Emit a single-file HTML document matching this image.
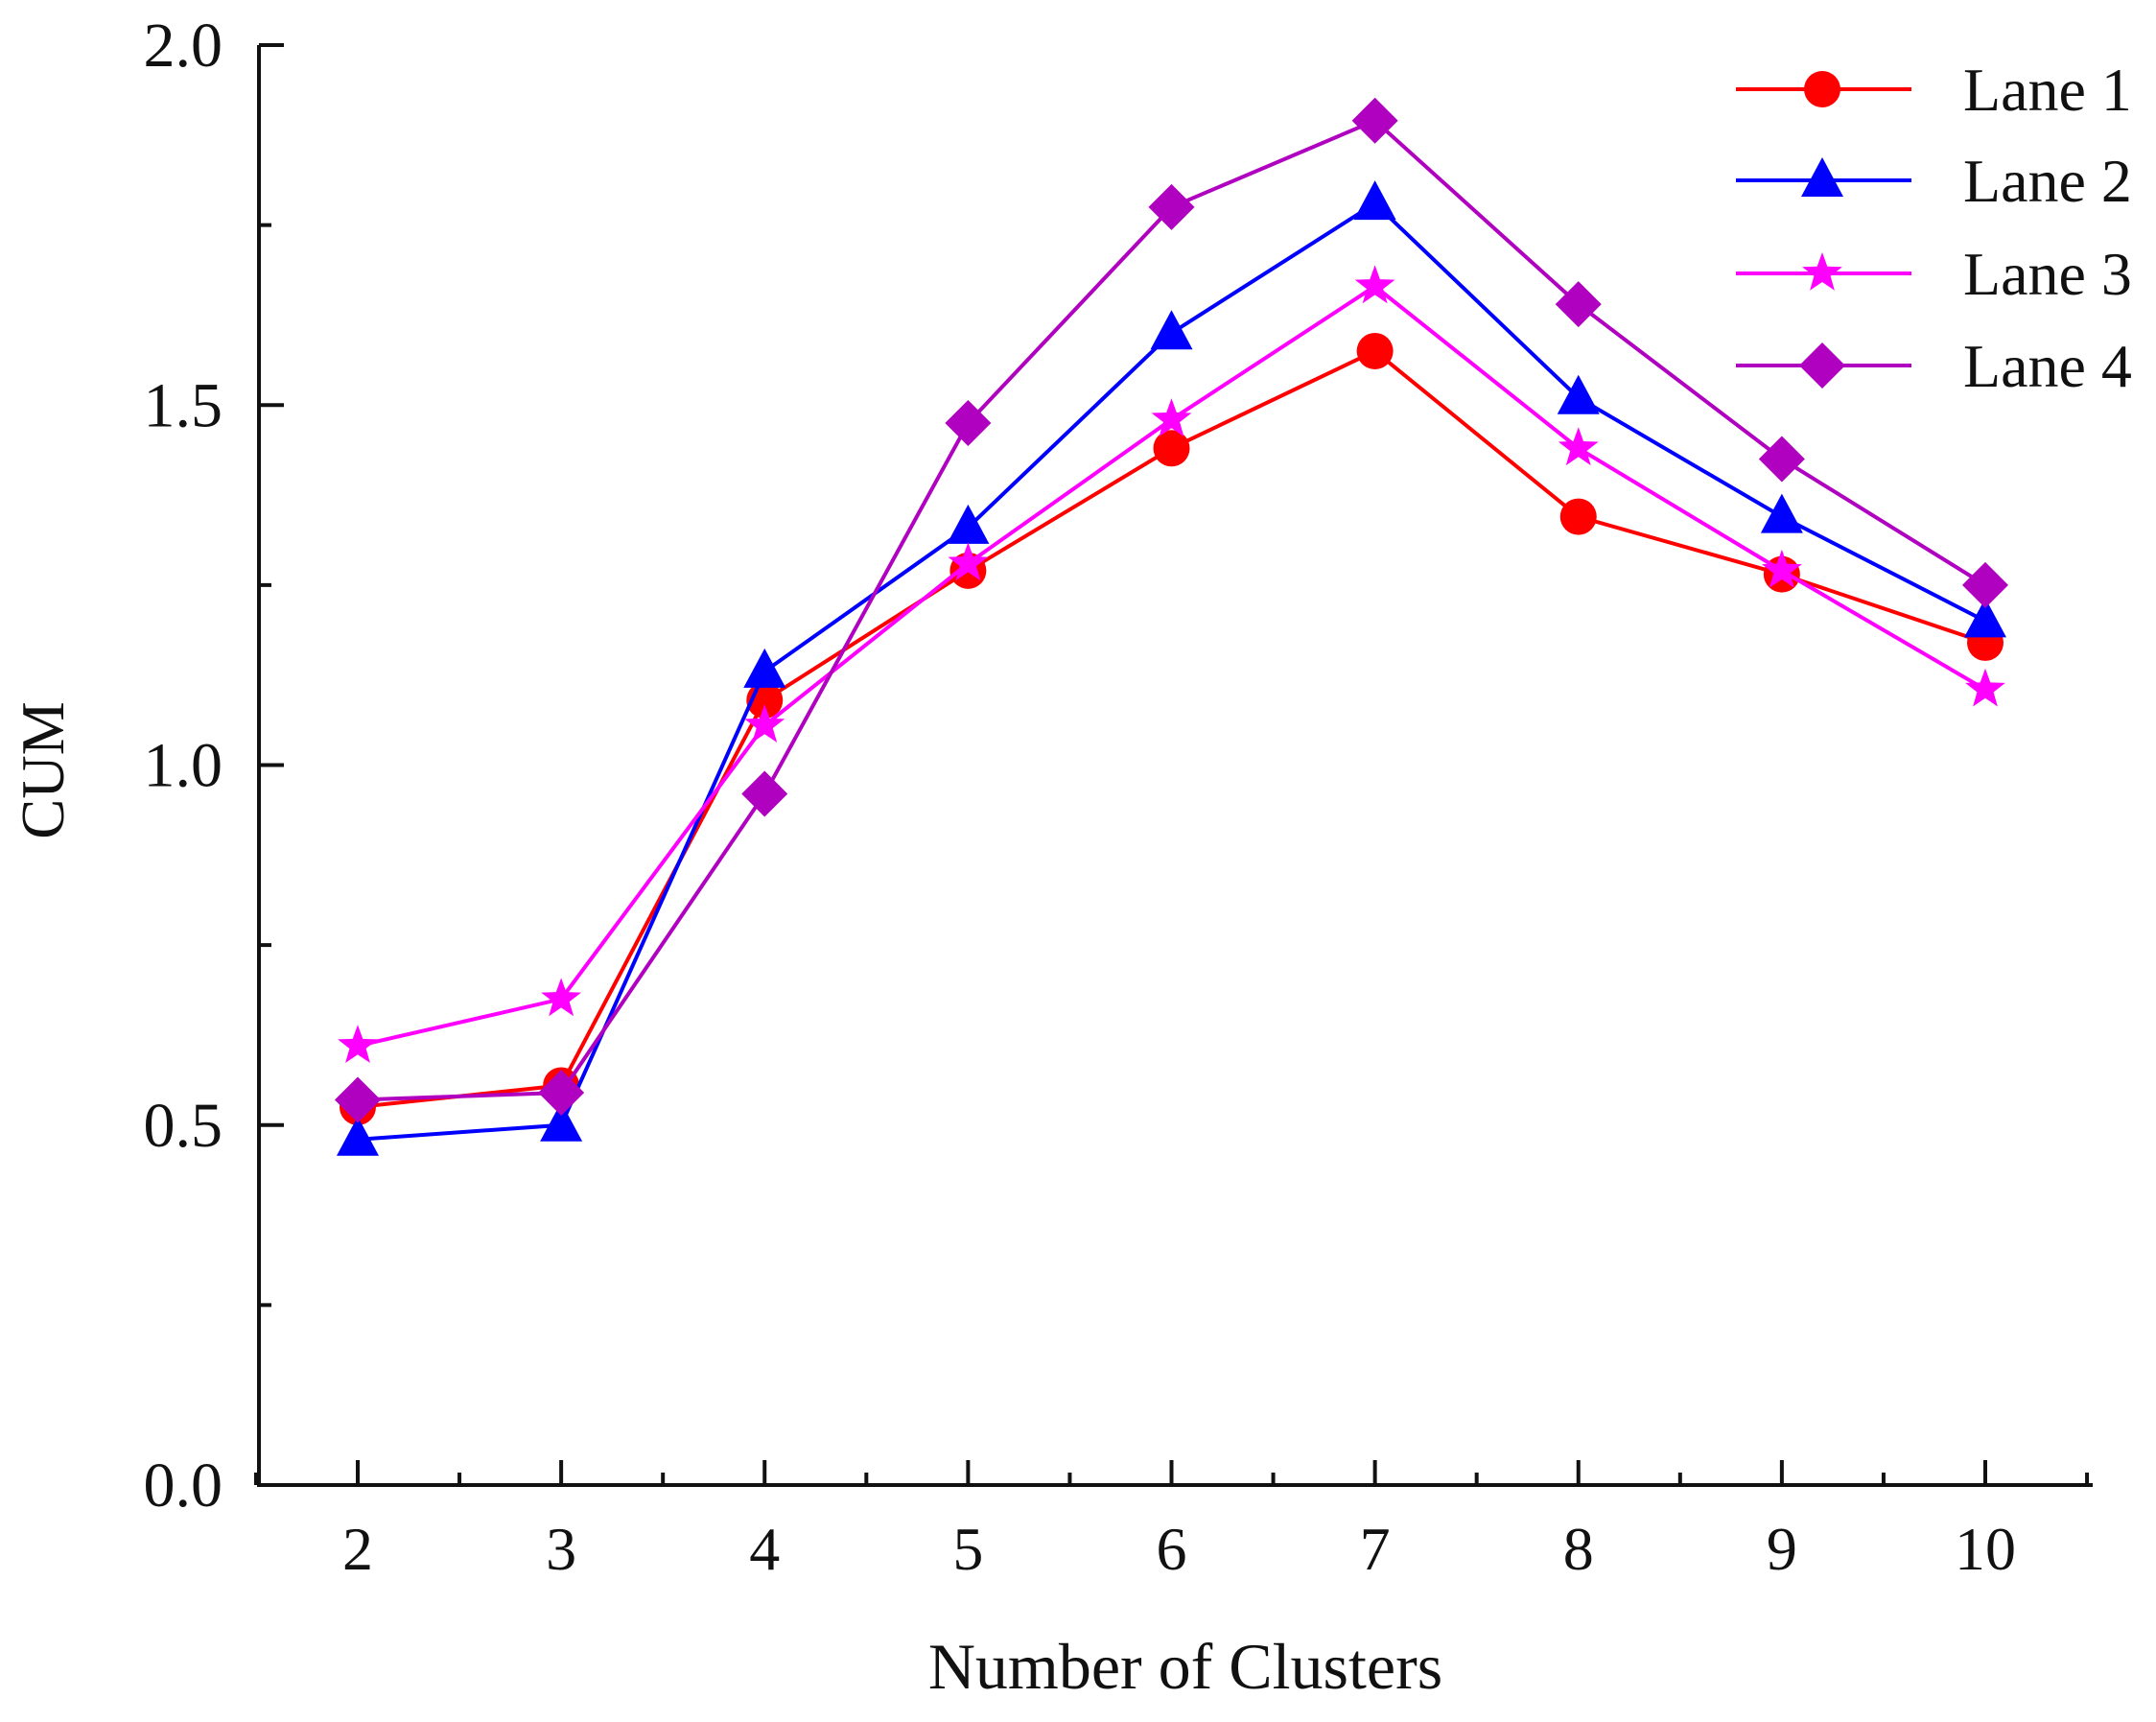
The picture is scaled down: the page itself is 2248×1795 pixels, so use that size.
<!DOCTYPE html>
<html><head><meta charset="utf-8"><style>
html,body{margin:0;padding:0;background:#fff;}
svg text{font-family:"Liberation Serif",serif;fill:#111;}
</style></head><body>
<svg id="chart" width="2248" height="1790" viewBox="0 0 2248 1790" xmlns="http://www.w3.org/2000/svg">
<g id="axes"></g>
<g id="series"></g>
<g id="legend"></g>
<text x="1236" y="1760" font-size="68" text-anchor="middle">Number of Clusters</text>
<text transform="translate(66,803) rotate(-90)" font-size="63" text-anchor="middle">CUM</text>
</svg>
<script>
const categories = [2,3,4,5,6,7,8,9,10];
const lane1 = [0.525,0.555,1.09,1.27,1.44,1.575,1.345,1.265,1.17];
const lane2 = [0.48,0.50,1.13,1.33,1.60,1.78,1.51,1.345,1.20];
const lane3 = [0.61,0.675,1.055,1.28,1.48,1.665,1.44,1.27,1.105];
const lane4 = [0.535,0.545,0.96,1.475,1.775,1.895,1.64,1.425,1.25];
const yTicks = [0.0,0.5,1.0,1.5,2.0];
const yTickLabels = ["0.0","0.5","1.0","1.5","2.0"];
const seriesNames = ["Lane 1","Lane 2","Lane 3","Lane 4"];

const NS="http://www.w3.org/2000/svg";
const X0=270, Y0=1548, XEND=2182, YTOP=47;
function xs(v){return 373+(v-2)*(2070-373)/8;}
function ys(v){return Y0-(v/2.0)*(Y0-YTOP);}
function mk(tag,attrs,parent){const e=document.createElementNS(NS,tag);for(const k in attrs)e.setAttribute(k,attrs[k]);parent.appendChild(e);return e;}
const axes=document.getElementById('axes');
let e;
e=mk('line',{x1:X0,y1:Y0,x2:XEND,y2:Y0,stroke:'#111','stroke-width':4},axes);


e=mk('line',{x1:X0,y1:Y0+2,x2:X0,y2:YTOP,stroke:'#111','stroke-width':4},axes);


categories.forEach(c=>{
  e=mk('line',{x1:xs(c),y1:Y0,x2:xs(c),y2:Y0-26,stroke:'#111','stroke-width':4},axes);
  
  
  e=mk('line',{x1:xs(c+0.5),y1:Y0,x2:xs(c+0.5),y2:Y0-13,stroke:'#111','stroke-width':4},axes);
  
  
  e=mk('text',{x:xs(c),y:1636,'font-size':64,'text-anchor':'middle'},axes);
  e.textContent=c;
  
  
});
e=mk('line',{x1:xs(1.5),y1:Y0,x2:xs(1.5),y2:Y0-13,stroke:'#111','stroke-width':4},axes);


yTicks.forEach((t,i)=>{
  e=mk('line',{x1:X0,y1:ys(t),x2:X0+26,y2:ys(t),stroke:'#111','stroke-width':4},axes);
  
  
  if(i<yTicks.length-1){
    e=mk('line',{x1:X0,y1:ys(t+0.25),x2:X0+13,y2:ys(t+0.25),stroke:'#111','stroke-width':4},axes);
    
    
  }
  e=mk('text',{x:232,y:ys(t)+22,'font-size':66,'text-anchor':'end'},axes);
  e.textContent=yTickLabels[i];
  
  
});
const colors=['#ff0000','#0000ff','#ff00ff','#b000c0'];
const shapes=['circle','triangle','star','diamond'];
function marker(shape,cx,cy,color,parent){
  let el;
  if(shape==='circle') el=mk('circle',{cx:cx,cy:cy,r:19,fill:color},parent);
  else if(shape==='triangle') el=mk('polygon',{points:`${cx},${cy-24} ${cx+22},${cy+17} ${cx-22},${cy+17}`,fill:color},parent);
  else if(shape==='diamond') el=mk('polygon',{points:`${cx},${cy-24} ${cx+24},${cy} ${cx},${cy+24} ${cx-24},${cy}`,fill:color},parent);
  else {let p=[];for(let k=0;k<10;k++){const r=k%2?9:22;const a=-Math.PI/2+k*Math.PI/5;p.push((cx+r*Math.cos(a)).toFixed(1)+','+(cy+r*Math.sin(a)).toFixed(1));}
    el=mk('polygon',{points:p.join(' '),fill:color},parent);}
  return el;
}
const sg=document.getElementById('series');
[lane1,lane2,lane3,lane4].forEach((vals,si)=>{
  const g=mk('g',{},sg);
  
  
  const pts=vals.map((v,i)=>xs(categories[i]).toFixed(1)+','+ys(v).toFixed(1)).join(' ');
  e=mk('polyline',{points:pts,fill:'none',stroke:colors[si],'stroke-width':4},g);
  
  
  vals.forEach((v,i)=>{
    e=marker(shapes[si],xs(categories[i]),ys(v),colors[si],g);
    
    
  });
});
const lg=document.getElementById('legend');
const legY=[93,188,285,381];
seriesNames.forEach((n,i)=>{
  const g=mk('g',{},lg);
  
  
  mk('line',{x1:1810,y1:legY[i],x2:1993,y2:legY[i],stroke:colors[i],'stroke-width':4},g);
  marker(shapes[i],1900,legY[i],colors[i],g);
  e=mk('text',{x:2047,y:legY[i]+22,'font-size':64},g);
  e.textContent=n;
  
  
});
</script>
</body></html>
